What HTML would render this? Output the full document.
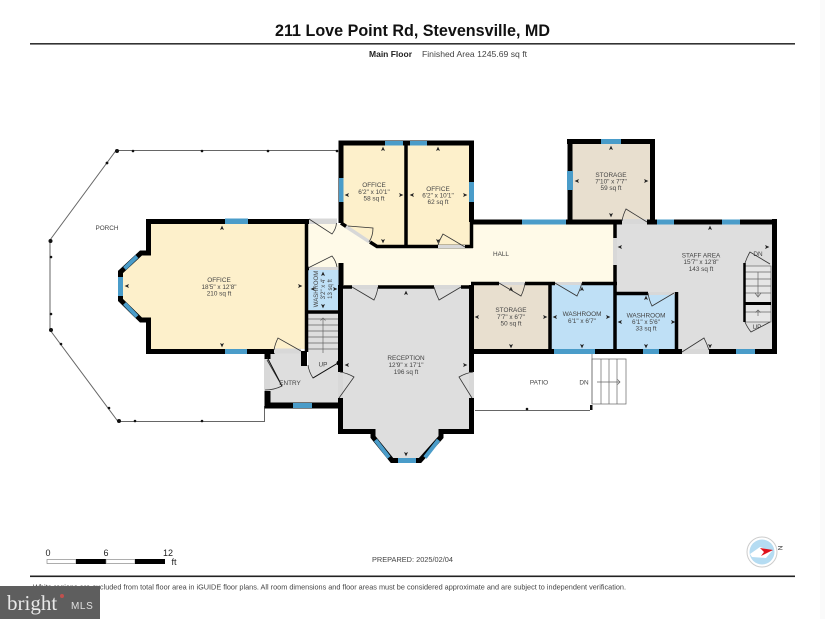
<!DOCTYPE html>
<html><head><meta charset="utf-8"><style>
html,body{margin:0;padding:0;background:#fff}
svg{display:block;filter:blur(.3px)}
text{font-family:"Liberation Sans",sans-serif}
.l{font-size:6.4px;fill:#444;text-anchor:middle}
.w{fill:none;stroke:#000;stroke-width:5}
.n{fill:none;stroke:#000;stroke-width:3.5}
.d{fill:none;stroke:#333;stroke-width:.8}
.s{stroke:#666;stroke-width:.7;fill:none}
.g{fill:#d8d8d8}
</style></head><body>
<svg width="825" height="619" viewBox="0 0 825 619" xmlns="http://www.w3.org/2000/svg">
<defs><path id="t" d="M0,-2.4 L2,2 L0,1 L-2,2Z" fill="#222"/></defs>
<rect width="825" height="619" fill="#fff"/>
<rect x="820" width="5" height="619" fill="#fafafa"/>

<!-- header -->
<text x="412.5" y="36" text-anchor="middle" font-size="17" font-weight="bold" fill="#111" textLength="275" lengthAdjust="spacingAndGlyphs">211 Love Point Rd, Stevensville, MD</text>
<rect x="30" y="43" width="765" height="1.6" fill="#333"/>
<text x="369" y="57" font-size="8.2" font-weight="bold" fill="#222" textLength="43" lengthAdjust="spacingAndGlyphs">Main Floor</text>
<text x="422" y="57" font-size="8.2" fill="#444" textLength="105" lengthAdjust="spacingAndGlyphs">Finished Area 1245.69 sq ft</text>

<!-- porch -->
<g fill="none" stroke="#666" stroke-width="1">
<path d="M338,150.5 H116 L50,240 V330 L118,421.500 H264.500 V406"/>
<path d="M475,410.5 H590"/>
</g>
<g fill="#111">
<circle cx="117" cy="151" r="2"/><circle cx="133" cy="151" r="1.3"/><circle cx="202" cy="151" r="1.3"/><circle cx="268" cy="151" r="1.3"/><circle cx="337" cy="151" r="1.3"/>
<circle cx="107" cy="163" r="1.4"/><circle cx="50.500" cy="241" r="2"/><circle cx="51" cy="257" r="1.3"/><circle cx="51" cy="314" r="1.3"/><circle cx="51" cy="330" r="2"/><circle cx="61" cy="344" r="1.3"/>
<circle cx="109" cy="408" r="1.3"/><circle cx="119" cy="421" r="2"/><circle cx="135" cy="421" r="1.3"/><circle cx="202" cy="421" r="1.3"/>
<circle cx="527" cy="409" r="1.3"/><rect x="590" y="405" width="2.500" height="5"/>
</g>
<text class="l" x="107" y="230">PORCH</text>

<!-- room fills -->
<path fill="#fdf0cb" d="M151,224H305V349H151V322H143L123,300V272L143,255H151Z"/>
<path fill="#fdf0cb" d="M343,145H405V246H377L343,223Z"/>
<path fill="#fdf0cb" d="M407,145H470V246H407Z"/>
<path fill="#fffae8" d="M306,224H343L377,247H473V224H614V283H470V286H341V268H306Z"/>
<path fill="#e8dfcf" d="M572,143H651V220H572Z"/>
<path fill="#e8dfcf" d="M472,284H550V351H472Z"/>
<path fill="#bfe0f6" d="M551,284H614V351H551Z"/>
<path fill="#bfe0f6" d="M616,294H676V351H616Z"/>
<path fill="#bfe0f6" d="M308,270H339V310H308Z"/>
<path fill="#dedede" d="M616,224H773V351H678V293H616Z"/>
<path fill="#dedede" d="M342,288H471V432H441V437L420,460H392L373,437V432H342Z"/>
<path fill="#dedede" d="M265,352H303V366H340V405H265Z"/>
<path fill="#dedede" d="M308,313H339V366H308Z"/>

<!-- stairs -->
<g class="s">
<path d="M308,319H338M308,325H338M308,331H338M308,337H338M308,343H338M308,349H338"/>
<path d="M323,353V318M320.500,320.500L323,318L325.500,320.500"/>
<rect x="745" y="266" width="26" height="56" fill="#e6e6e6"/>
<path d="M745,272H771M745,279H771M745,286H771M745,293H771M745,312H771"/>
<path d="M758,272V296M755,293L758,297L761,293M758,316V310M755.500,312.500L758,310L760.500,312.500"/>
<rect x="592" y="359" width="34" height="45" fill="#fff"/>
<path d="M592,353V404M601,359V404M609,359V404M617,359V404M597,382H620M617.500,379.500L620,382L617.500,384.500"/>
</g>
<path fill="none" stroke="#000" stroke-width="2.500" d="M744.500,263V322"/>
<path fill="none" stroke="#000" stroke-width="3" d="M745,303.500H771"/>

<!-- walls -->
<g class="w">
<path d="M146,221.500H309M148.500,219V253H141L120.500,272V300L141,320H148.500V354M146,351.500H275"/>
<path d="M341,263V285"/>
<path d="M341,141V223M338.500,143H474M471.500,143V222"/>
<path d="M471,222H622M647,222H777M774.500,219V354M570,139V222M652.500,139V222M567,141.500H655"/>
<path d="M471.500,285V372M471.500,398V431.500H441V437L420,460.500H392L373,437V431.500H340.500V398M340.500,372V285"/>
<path d="M264,351.500V359" stroke-width="0"/>
<path d="M267.500,351V359M267.500,391V405.500H340M304,351V366" stroke-width="6"/>
<path d="M471,351.500H682M709,351.500H777"/>
</g>
<g class="n">
<path d="M406,143V248M341,223L347,227M370,242L377,246.500H473M471.500,222V248"/>
<path d="M615,222V238M615,265V354M471,283.500H499M525,283.500H555M582,283.500H617M550,283V353"/>
<path d="M615,293.500H648M676.500,292V351"/>
<path d="M340,287H352M378,287H434M461,287H472"/>
<path d="M306.500,224V352M305,312H340M305,268.500H309"/>
</g>

<!-- grey door thresholds -->
<g class="g">
<rect x="309" y="218.500" width="28" height="5.500"/>
<rect x="309" y="267" width="29" height="3"/>
<rect x="352" y="285" width="26" height="4"/>
<rect x="434" y="285" width="27" height="4"/>
<rect x="438" y="245" width="27" height="3"/>
<rect x="499" y="282" width="26" height="3"/>
<rect x="555" y="282" width="27" height="3"/>
<rect x="648" y="292" width="26" height="3"/>
<rect x="622" y="219" width="25" height="5"/>
<rect x="613" y="238" width="4" height="27"/>
<rect x="682" y="349" width="27" height="5"/>
<rect x="274" y="348.500" width="27" height="5"/>
<rect x="264" y="359" width="6" height="32"/>
<rect x="338" y="372" width="5" height="26"/>
<rect x="469" y="372" width="5" height="26"/>
<path d="M347,225L371,241L368,243L345,228Z"/>
</g>

<!-- windows -->
<g fill="#4a9cc9">
<rect x="225" y="218.500" width="23" height="5.500"/>
<rect x="225" y="349" width="22" height="5"/>
<rect x="118" y="277" width="5" height="19"/>
<rect x="339" y="178" width="4.500" height="24"/>
<rect x="385" y="141" width="18" height="4.500"/>
<rect x="410" y="141" width="17" height="4.500"/>
<rect x="469" y="182" width="5" height="20"/>
<rect x="522" y="219.500" width="44" height="5"/>
<rect x="601" y="139" width="20" height="5"/>
<rect x="567" y="171" width="6" height="19"/>
<rect x="657" y="219.500" width="17" height="5"/>
<rect x="722" y="219.500" width="18" height="5"/>
<rect x="736" y="349" width="19" height="5"/>
<rect x="554" y="349" width="41" height="5"/>
<rect x="643" y="349" width="16" height="5"/>
<rect x="293" y="403" width="19" height="5"/>
<rect x="398" y="458" width="18" height="5"/>
</g>
<path d="M137,256.500L124.500,268.500M124.500,303.500L137,316.500M375.500,440L389,457.500M425,457.500L438.500,440" fill="none" stroke="#4a9cc9" stroke-width="4"/>

<!-- doors -->
<g class="d">
<path d="M309,219L332,234Q336,229 336.500,223"/>
<path d="M308,268L332,256Q336,261 337,267"/>
<path d="M348,226L373,228Q373,236 369,242"/>
<path d="M465,247L443,234Q440,239 438,245"/>
<path d="M352,287L374,300Q377,294 378,287"/>
<path d="M461,287L439,300Q436,294 434,287"/>
<path d="M499,283L521,296Q524,290 525,283"/>
<path d="M555,283L577,296Q580,290 582,283"/>
<path d="M674,293L652,306Q649,300 648,293"/>
<path d="M647,222L626,209Q623,215 622,221"/>
<path d="M682,352L704,338Q707,344 709,350"/>
<path d="M301,351L278,338Q275,344 274,350"/>
<path d="M267,360L282,386Q274,390 265,390"/>
<path d="M338,363L313,378Q309,372 308,365"/>
<path d="M339,398L354,377Q347,373 340,372"/>
<path d="M472,398L459,377Q466,373 473,372"/>
<path d="M770,264L750,252Q747,257 745,263"/>
<path d="M770,322L751,332Q747,327 745,322"/>
</g>
<path d="M267,357L282,386M338,363L313,378" fill="none" stroke="#111" stroke-width="1"/>
<circle cx="339" cy="363" r="2.500" fill="#000"/>

<!-- ticks -->
<g>
<use href="#t" x="222" y="228"/><use href="#t" transform="translate(222,345) rotate(180)"/><use href="#t" transform="translate(127,286) rotate(-90)"/><use href="#t" transform="translate(300,286) rotate(90)"/>
<use href="#t" x="383" y="149"/><use href="#t" transform="translate(383,241) rotate(180)"/><use href="#t" transform="translate(347,195) rotate(-90)"/><use href="#t" transform="translate(401,195) rotate(90)"/>
<use href="#t" x="438" y="149"/><use href="#t" transform="translate(438,241) rotate(180)"/><use href="#t" transform="translate(412,195) rotate(-90)"/><use href="#t" transform="translate(465,195) rotate(90)"/>
<use href="#t" x="511" y="289"/><use href="#t" transform="translate(511,346) rotate(180)"/><use href="#t" transform="translate(477,317) rotate(-90)"/><use href="#t" transform="translate(545,317) rotate(90)"/>
<use href="#t" x="582" y="289"/><use href="#t" transform="translate(582,346) rotate(180)"/><use href="#t" transform="translate(555,317) rotate(-90)"/><use href="#t" transform="translate(608,317) rotate(90)"/>
<use href="#t" x="646" y="298"/><use href="#t" transform="translate(646,346) rotate(180)"/><use href="#t" transform="translate(620,322) rotate(-90)"/><use href="#t" transform="translate(673,322) rotate(90)"/>
<use href="#t" x="611" y="148"/><use href="#t" transform="translate(611,215) rotate(180)"/><use href="#t" transform="translate(577,181) rotate(-90)"/><use href="#t" transform="translate(646,181) rotate(90)"/>
<use href="#t" x="710" y="228"/><use href="#t" transform="translate(710,346) rotate(180)"/><use href="#t" transform="translate(620,247) rotate(-90)"/><use href="#t" transform="translate(767,247) rotate(90)"/>
<use href="#t" x="406" y="293"/><use href="#t" transform="translate(406,454) rotate(180)"/><use href="#t" transform="translate(347,365) rotate(-90)"/><use href="#t" transform="translate(465,365) rotate(90)"/>
<use href="#t" x="323" y="274"/><use href="#t" transform="translate(323,306) rotate(180)"/><use href="#t" transform="translate(313,289) rotate(-90)"/><use href="#t" transform="translate(335,289) rotate(90)"/>
</g>

<!-- labels -->
<text class="l" x="219" y="282">OFFICE</text><text class="l" x="219" y="289">18'5" x 12'8"</text><text class="l" x="219" y="295.500">210 sq ft</text>
<text class="l" x="374" y="187">OFFICE</text><text class="l" x="374" y="194">6'2" x 10'1"</text><text class="l" x="374" y="200.500">58 sq ft</text>
<text class="l" x="438" y="191">OFFICE</text><text class="l" x="438" y="197.500">6'2" x 10'1"</text><text class="l" x="438" y="204">62 sq ft</text>
<text class="l" x="611" y="177">STORAGE</text><text class="l" x="611" y="183.500">7'10" x 7'7"</text><text class="l" x="611" y="190">59 sq ft</text>
<text class="l" x="501" y="256">HALL</text>
<text class="l" x="701" y="257.500">STAFF AREA</text><text class="l" x="701" y="264">15'7" x 12'8"</text><text class="l" x="701" y="271">143 sq ft</text>
<text class="l" x="511" y="312">STORAGE</text><text class="l" x="511" y="319">7'7" x 6'7"</text><text class="l" x="511" y="325.500">50 sq ft</text>
<text class="l" x="582" y="316">WASHROOM</text><text class="l" x="582" y="323">6'1" x 6'7"</text>
<text class="l" x="646" y="317.500">WASHROOM</text><text class="l" x="646" y="324">6'1" x 5'6"</text><text class="l" x="646" y="330.500">33 sq ft</text>
<text class="l" x="406" y="360">RECEPTION</text><text class="l" x="406" y="367">12'9" x 17'1"</text><text class="l" x="406" y="374">196 sq ft</text>
<text class="l" x="290" y="385">ENTRY</text>
<text class="l" x="323" y="366.500">UP</text>
<text class="l" x="539" y="384.500">PATIO</text>
<text class="l" x="584" y="384.500">DN</text>
<text class="l" x="758" y="256">DN</text>
<text class="l" x="757" y="329">UP</text>
<text class="l" transform="translate(318,289) rotate(-90)" style="font-size:6px">WASHROOM</text>
<text class="l" transform="translate(325,289) rotate(-90)" style="font-size:6px">3'2" x 4'</text>
<text class="l" transform="translate(332,289) rotate(-90)" style="font-size:6px">13 sq ft</text>

<!-- scale -->
<rect x="47" y="559.500" width="29" height="4" fill="#fff" stroke="#777" stroke-width=".6"/>
<rect x="76" y="559" width="30" height="5" fill="#000"/>
<rect x="106" y="559.500" width="29" height="4" fill="#fff" stroke="#777" stroke-width=".6"/>
<rect x="135" y="559" width="30" height="5" fill="#000"/>
<g font-size="9" fill="#222"><text x="48" y="556" text-anchor="middle">0</text><text x="106" y="556" text-anchor="middle">6</text><text x="168" y="556" text-anchor="middle">12</text><text x="174" y="565" text-anchor="middle">ft</text></g>
<text x="372" y="562" font-size="7.6" fill="#444" textLength="81" lengthAdjust="spacingAndGlyphs">PREPARED: 2025/02/04</text>

<!-- compass -->
<circle cx="762" cy="552" r="15" fill="#fff" stroke="#ccc" stroke-width="1"/>
<circle cx="762" cy="552" r="12.500" fill="#b5dcf2"/>
<path d="M750,554L760,547L772,551L766,558L752,557Z" fill="#fff"/>
<path d="M760,548L773,550L761,556L764,552Z" fill="#e0111b"/>
<text x="780" y="550" font-size="6.500" fill="#333" text-anchor="middle" transform="rotate(90 780 548)">N</text>

<!-- footer -->
<rect x="30" y="575.500" width="765" height="1.600" fill="#222"/>
<text x="33" y="589.500" font-size="7.400" fill="#444" textLength="593" lengthAdjust="spacingAndGlyphs">White regions are excluded from total floor area in iGUIDE floor plans. All room dimensions and floor areas must be considered approximate and are subject to independent verification.</text>

<!-- watermark -->
<rect x="0" y="586" width="100" height="33" fill="#5e5e5e"/>
<text x="7" y="610" style="font-family:'Liberation Serif',serif" font-size="21" fill="#e8e8e8">bright</text>
<circle cx="62" cy="596" r="2" fill="#c0504d"/>
<text x="71" y="609" font-size="10" fill="#e0e0e0" letter-spacing=".6">MLS</text>
</svg>
</body></html>
